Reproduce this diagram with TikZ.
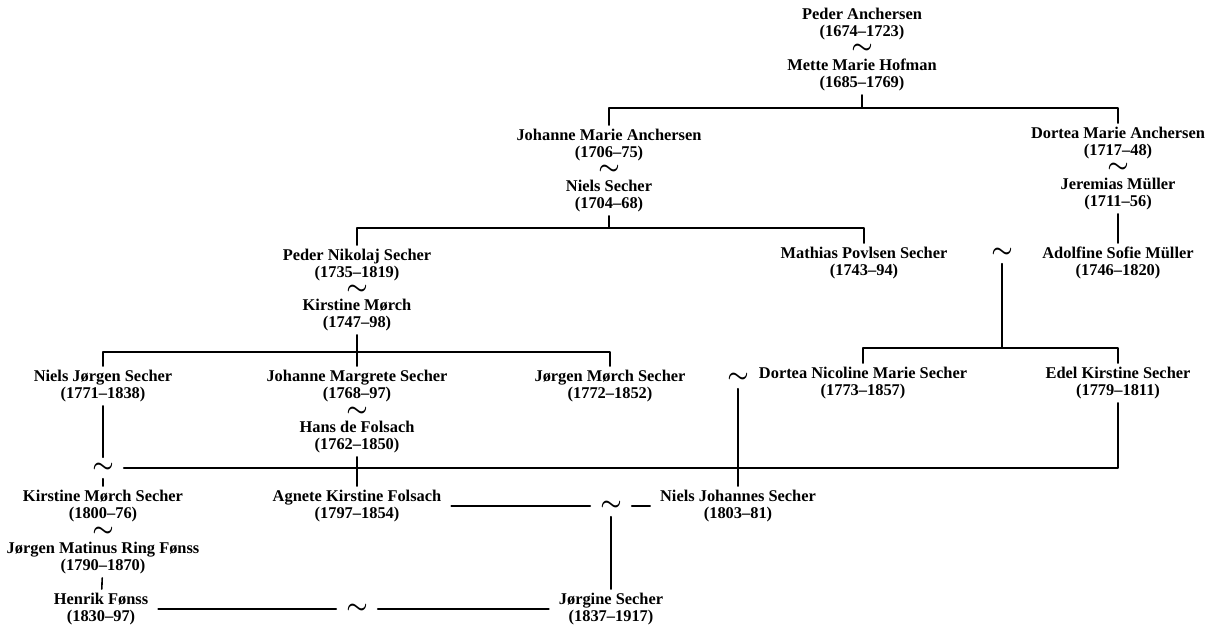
\documentclass[tikz,border=0pt]{standalone}
\usepackage{fontspec}
\setmainfont{Liberation Serif}
\usepackage{tikz}
\begin{document}
\begin{tikzpicture}[line cap=round,line join=round,x=0.5pt,y=-0.5pt,line width=0.8pt,
  person/.style={align=center,inner sep=0pt,outer xsep=5pt,outer ysep=2pt,font=\bfseries\fontsize{8.2}{8.5}\selectfont},
  wed/.style={inner sep=0pt,outer xsep=5pt,outer ysep=3pt,font=\boldmath\fontsize{11.5}{11.5}\selectfont}]
\useasboundingbox (0,0) rectangle (1208,625);
\node[person] (peder) at (862,24) {Peder Anchersen\\(1674--1723)};
\node[wed] (wa) at (862,49) {$\sim$};
\node[person] (mette) at (862,75) {Mette Marie Hofman\\(1685--1769)};
\node[person] (johanne) at (609,145) {Johanne Marie Anchersen\\(1706--75)};
\node[wed] (wb) at (609,170) {$\sim$};
\node[person] (niels) at (609,196) {Niels Secher\\(1704--68)};
\node[person] (dortea) at (1118,143) {Dortea Marie Anchersen\\(1717--48)};
\node[wed] (wc) at (1118,168) {$\sim$};
\node[person] (jeremias) at (1118,194) {Jeremias Müller\\(1711--56)};
\node[person] (adolfine) at (1118,263) {Adolfine Sofie Müller\\(1746--1820)};
\node[person] (pnikolaj) at (357,265) {Peder Nikolaj Secher\\(1735--1819)};
\node[wed] (wd) at (357,290) {$\sim$};
\node[person] (kirstine) at (357,315) {Kirstine Mørch\\(1747--98)};
\node[person] (mathias) at (864,263) {Mathias Povlsen Secher\\(1743--94)};
\node[wed] (we) at (1002,253) {$\sim$};
\node[person] (njorgen) at (103,386) {Niels Jørgen Secher\\(1771--1838)};
\node[person] (jmargrete) at (357,386) {Johanne Margrete Secher\\(1768--97)};
\node[wed] (wf) at (357,412) {$\sim$};
\node[person] (hans) at (357,437) {Hans de Folsach\\(1762--1850)};
\node[person] (jmorch) at (610,386) {Jørgen Mørch Secher\\(1772--1852)};
\node[wed] (wj) at (738,378) {$\sim$};
\node[person] (dnicoline) at (863,383) {Dortea Nicoline Marie Secher\\(1773--1857)};
\node[person] (edel) at (1118,383) {Edel Kirstine Secher\\(1779--1811)};
\node[wed] (wg) at (103,468) {$\sim$};
\node[person] (kmsecher) at (103,506) {Kirstine Mørch Secher\\(1800--76)};
\node[wed] (wh) at (103,532) {$\sim$};
\node[person] (jmring) at (103,558) {Jørgen Matinus Ring Fønss\\(1790--1870)};
\node[person] (henrik) at (101,609) {Henrik Fønss\\(1830--97)};
\node[person] (agnete) at (357,506) {Agnete Kirstine Folsach\\(1797--1854)};
\node[wed] (wk) at (611,506) {$\sim$};
\node[person] (njohannes) at (738,506) {Niels Johannes Secher\\(1803--81)};
\node[wed] (wl) at (357,609) {$\sim$};
\node[person] (jorgine) at (611,609) {Jørgine Secher\\(1837--1917)};
\coordinate (fa) at (862,108);
\coordinate (fb) at (609,228);
\coordinate (fd) at (357,352);
\coordinate (fe) at (1002,348);
\draw (mette) -- (fa);
\draw (johanne.north) |- (fa) -| (dortea.north);
\draw (niels) -- (fb);
\draw (pnikolaj.north) |- (fb) -| (mathias.north);
\draw (jeremias) -- (adolfine);
\draw (kirstine) -- (jmargrete);
\draw (njorgen.north) |- (fd) -| (jmorch.north);
\draw (we) -- (fe);
\draw (dnicoline.north) |- (fe) -| (edel.north);
\draw (hans) -- (agnete);
\draw (njorgen) -- (wg) -- (kmsecher);
\draw (wg) -- (wg -| edel) -- (edel);
\draw (wj) -- (njohannes);
\draw (agnete) -- (wk) -- (njohannes);
\draw (wk) -- (jorgine);
\draw (jmring) -- (henrik);
\draw (henrik) -- (wl) -- (jorgine);
\end{tikzpicture}
\end{document}
